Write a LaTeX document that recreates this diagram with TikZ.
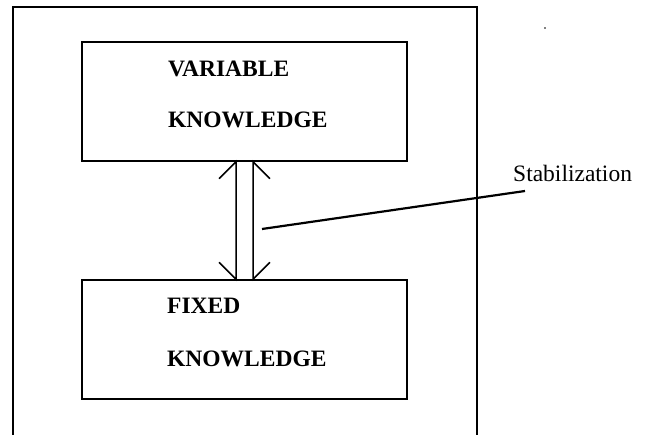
\documentclass[tikz,border=0pt]{standalone}
\usepackage{fontspec}
\setmainfont{Liberation Serif}
\begin{document}
\begin{tikzpicture}[x=1pt,y=-1pt,
  kbox/.style={draw=black,line width=1.4pt,minimum width=325pt,minimum height=119pt,inner sep=0pt},
  ktext/.style={anchor=base west,inner sep=0pt,font=\fontsize{23.5}{28}\selectfont\bfseries},
  lbl/.style={anchor=base west,inner sep=0pt,font=\fontsize{23.5}{28}\selectfont},
  shaft/.style={line width=1.5pt}]
\useasboundingbox (0,0) rectangle (648,435);
% outer frame (open at bottom)
\draw[line width=1.3pt] (13,435) -- (13,7) -- (477,7) -- (477,435);
\fill (545,28) circle (0.8pt);
% boxes
\node[kbox] (var) at (244.5,101.5) {};
\node[kbox] (fix) at (244.5,339.5) {};
\node[ktext] (v1) at (168,76.7) {VARIABLE};
\node[ktext] (v2) at (168,127.3) {KNOWLEDGE};
\node[ktext] (f1) at (167,314) {FIXED};
\node[ktext] (f2) at (167,367) {KNOWLEDGE};
% double shaft arrow
\draw[shaft] ([xshift=-25.5pt,yshift=-17pt]var.south) -- ([xshift=-8.5pt]var.south)
  -- ([xshift=-8.5pt]fix.north) -- ([xshift=-25.5pt,yshift=17pt]fix.north);
\draw[shaft] ([xshift=25.5pt,yshift=-17pt]var.south) -- ([xshift=8.5pt]var.south)
  -- ([xshift=8.5pt]fix.north) -- ([xshift=25.5pt,yshift=17pt]fix.north);
% label and leader
\node[lbl] (stab) at (513,182) {Stabilization};
\coordinate (lstart) at (262,229);
\coordinate (lend) at (525,191);
\draw[line width=2.2pt] (lstart) -- (lend);
\end{tikzpicture}
\end{document}
